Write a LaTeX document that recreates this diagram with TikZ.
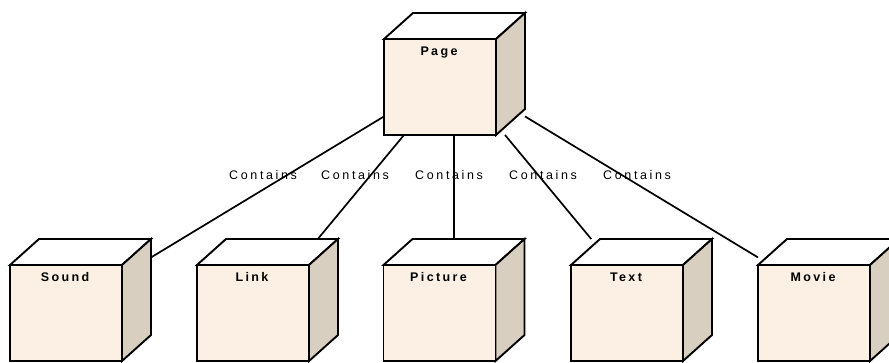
\documentclass[tikz,border=0pt]{standalone}
\usepackage{fontspec}
\setmainfont{Liberation Sans}
\newfontfamily\lblfont[LetterSpace=21]{Liberation Sans}
\newfontfamily\namefont[LetterSpace=19]{Liberation Sans}
\usetikzlibrary{calc}

\definecolor{frontcol}{RGB}{251,240,227}
\definecolor{sidecol}{RGB}{216,207,193}

\tikzset{
  cubebb/.style={rectangle, minimum width=141pt, minimum height=122pt,
    inner sep=0pt, outer sep=0pt},
  cubeedge/.style={draw=black, line width=1.9pt, line join=miter},
  frontface/.style={cubeedge, fill=frontcol},
  sideface/.style={cubeedge, fill=sidecol},
  topface/.style={cubeedge, fill=white},
  conn/.style={draw=black, line width=1.7pt},
  cubename/.style={font=\namefont\bfseries\fontsize{12.5}{14}\selectfont,
    anchor=base, inner sep=0pt},
  rel/.style={font=\lblfont\fontsize{12.5}{14}\selectfont,
    anchor=base west, inner sep=0pt},
}

% A 3-D box: the node spans the whole box, the faces are drawn over it
\newcommand\cubenode[3]{%
  \node[cubebb] (#1) at (#2) {};
  \begin{scope}[shift={(#1.north west)}]
    \path[topface] (0,26) -- (29,0) -- (141,0) -- (112,26) -- cycle;
    \path[sideface] (112,26) -- (141,0) -- (141,96) -- (112,122) -- cycle;
    \path[frontface] (0,26) rectangle (112,122);
  \end{scope}
  \node[cubename] (#1-name) at ($(#1.north west)+(55,42)$) {#3};
}

\begin{document}
\begin{tikzpicture}[x=1pt, y=-1pt]
  \clip (0,0) rectangle (889,362);
  \fill[white] (0,0) rectangle (889,362);

  \cubenode{page}{454.5,74}{Page}
  \cubenode{sound}{80.5,300}{Sound}
  \cubenode{link}{267.5,300}{Link}
  \cubenode{picture}{454,300}{Picture}
  \cubenode{text}{641.5,300}{Text}
  \cubenode{movie}{828.5,300}{Movie}

  \node[rel] (c1) at (229,179) {Contains};
  \node[rel] (c2) at (321,179) {Contains};
  \node[rel] (c3) at (415,179) {Contains};
  \node[rel] (c4) at (509,179) {Contains};
  \node[rel] (c5) at (603,179) {Contains};

  \draw[conn] (page) -- (sound);
  \draw[conn] (page) -- (link);
  \draw[conn] (page.south -| picture.north) -- (picture.north);
  \draw[conn] (page) -- (text);
  \draw[conn] (page) -- (movie);
\end{tikzpicture}
\end{document}
